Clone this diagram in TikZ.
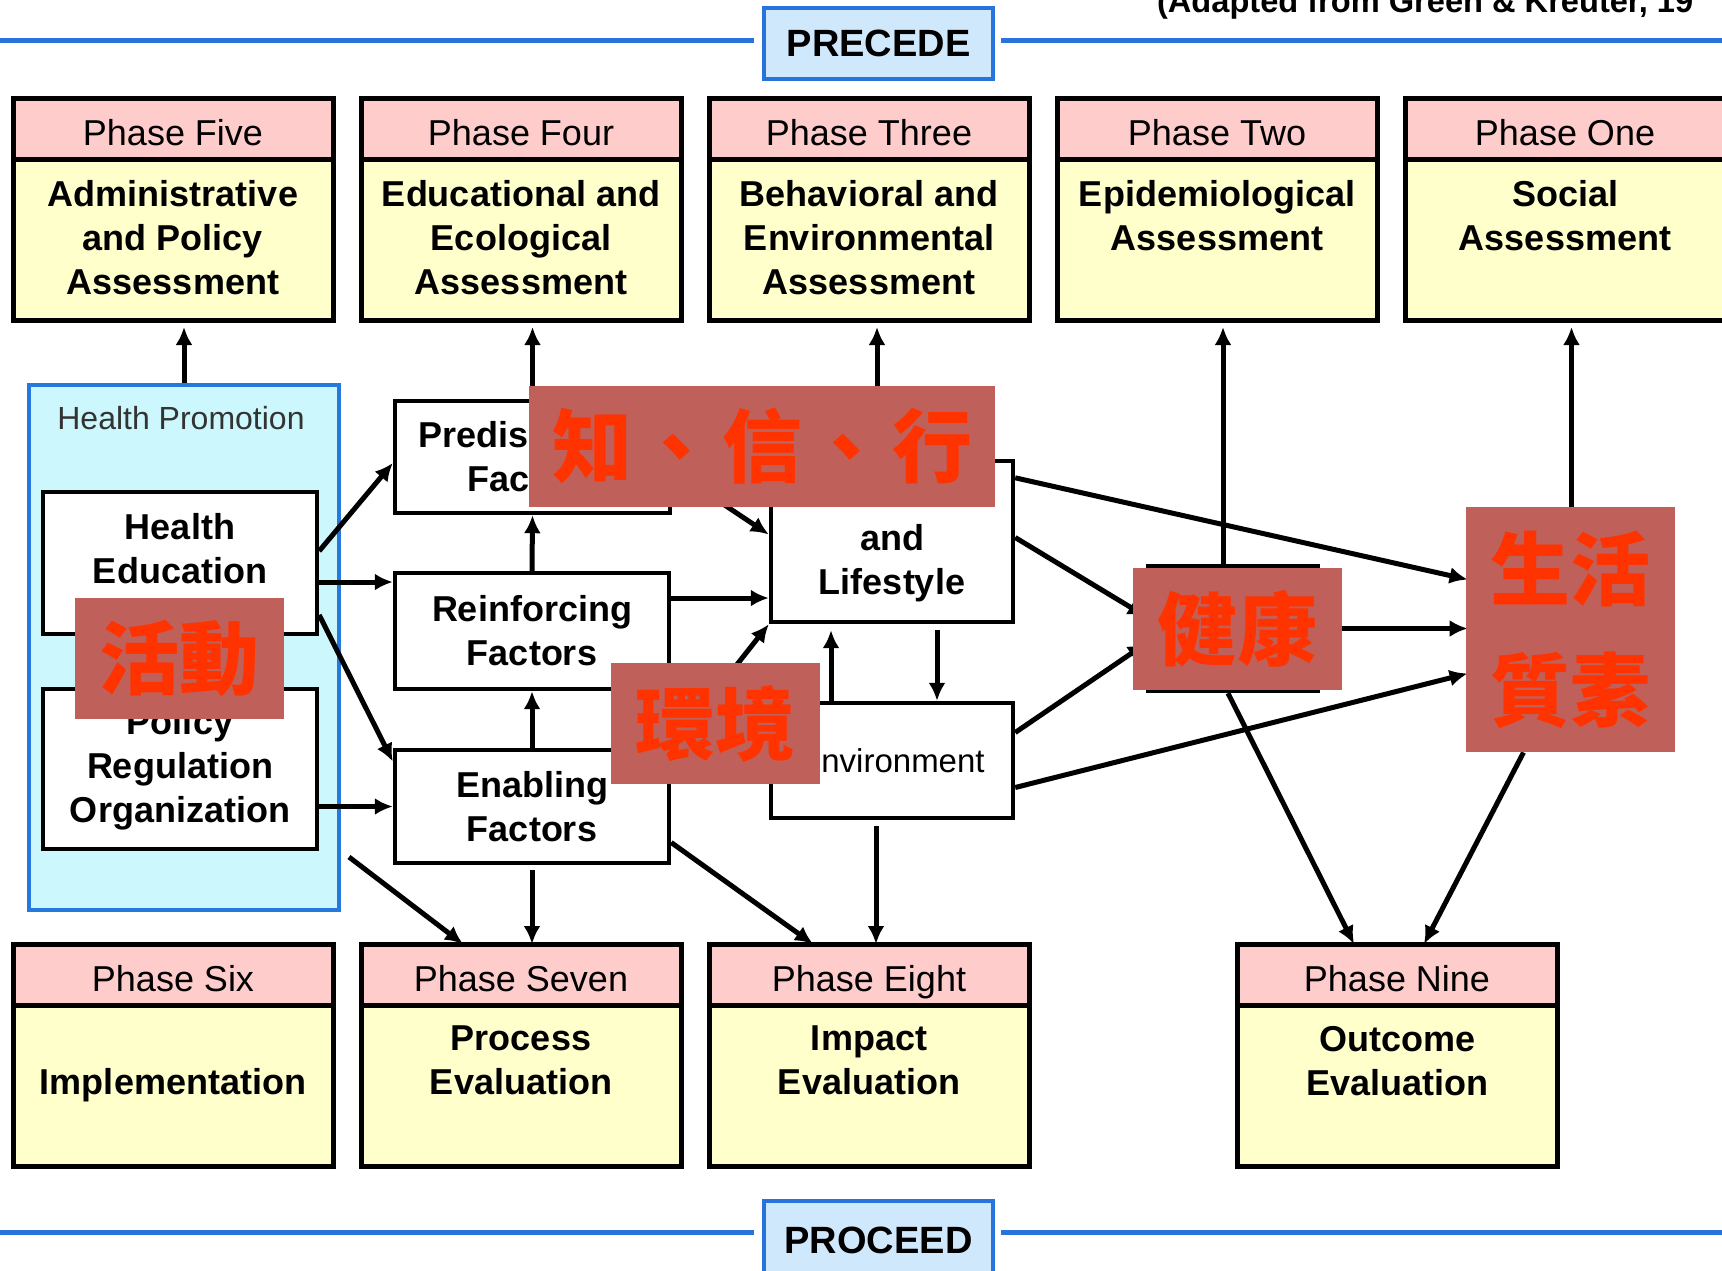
\documentclass[tikz,border=0pt]{standalone}
\usepackage{fontspec}
\setmainfont{Liberation Sans}
\newfontfamily\cjk{Noto Sans CJK TC}
\usepackage{tikz}
\usetikzlibrary{arrows.meta,positioning,calc}

\definecolor{headpink}{RGB}{255,204,204}
\definecolor{bodyyellow}{RGB}{255,255,204}
\definecolor{hpcyan}{RGB}{204,247,252}
\definecolor{hpblue}{RGB}{38,120,220}
\definecolor{lineblue}{RGB}{40,115,220}
\definecolor{boxblue}{RGB}{208,232,252}
\definecolor{tagfill}{RGB}{192,96,90}
\definecolor{tagred}{RGB}{255,51,0}

\newcommand\phhead{\fontsize{18}{22}\selectfont}
\newcommand\phbody{\fontsize{18}{22}\selectfont\bfseries}
\newcommand\zhtag{\cjk\bfseries\fontsize{40}{60.5}\selectfont}

\begin{document}
\begin{tikzpicture}[x=0.5pt,y=-0.5pt]
\tikzstyle{head} = [draw, line width=2.5pt, outer sep=0pt, fill=headpink, minimum width=160pt, minimum height=30.5pt, text height=17pt, text depth=0pt, anchor=north west, font=\phhead]
\tikzstyle{body} = [draw, line width=2.5pt, outer sep=0pt, fill=bodyyellow, minimum width=160pt, minimum height=80.5pt, font=\phbody]
\tikzstyle{btext} = [anchor=north, yshift=-7pt, align=center, font=\phbody]
\tikzstyle{factor} = [draw, line width=2.2pt, fill=white, align=center, font=\phbody]
\tikzstyle{tag} = [fill=tagfill, text=tagred, inner sep=0pt, align=center, font=\zhtag]
\tikzstyle{arr} = [line width=2.5pt, -{Latex[length=9pt,width=8.5pt]}]
\tikzstyle{blueline} = [line width=2.5pt, draw=lineblue]
\tikzstyle{banner} = [draw=lineblue, line width=2pt, fill=boxblue, minimum width=114.5pt, font=\fontsize{19}{22}\selectfont\bfseries]

\useasboundingbox (0,0) rectangle (1722,1270);
\clip (0,0) rectangle (1722,1270);

% PRECEDE / PROCEED
\node[banner, minimum height=35.5pt] (precede) at (878.5,43.5) {PRECEDE};
\node[banner, minimum height=39.5pt] (proceed) at (878.5,1240) {PROCEED};
\coordinate (ltop) at (0,40);
\coordinate (rtop) at (1722,40);
\coordinate (lbot) at (0,1232);
\coordinate (rbot) at (1722,1232);
\draw[blueline, shorten >=4pt] (ltop) -- (ltop -| precede.west);
\draw[blueline, shorten >=3pt] (rtop) -- (rtop -| precede.east);
\draw[blueline, shorten >=4pt] (lbot) -- (lbot -| proceed.west);
\draw[blueline, shorten >=3pt] (rbot) -- (rbot -| proceed.east);
\node[anchor=base west, font=\fontsize{16.3}{18}\selectfont\bfseries] (credit) at (1150,12) {(Adapted from Green \& Kreuter, 19};

% top row
\node[head] (h5) at (13,98) {Phase Five};
\node[body, below=0pt of h5, label={[btext]north:{Administrative\\and Policy\\Assessment}}] (b5) {};
\node[head] (h4) at (361,98) {Phase Four};
\node[body, below=0pt of h4, label={[btext]north:{Educational and\\Ecological\\Assessment}}] (b4) {};
\node[head] (h3) at (709,98) {Phase Three};
\node[body, below=0pt of h3, label={[btext]north:{Behavioral and\\Environmental\\Assessment}}] (b3) {};
\node[head] (h2) at (1057,98) {Phase Two};
\node[body, below=0pt of h2, label={[btext]north:{Epidemiological\\Assessment}}] (b2) {};
\node[head] (h1) at (1405,98) {Phase One};
\node[body, below=0pt of h1, label={[btext]north:{Social\\Assessment}}] (b1) {};

% bottom row
\node[head] (h6) at (13,944) {Phase Six};
\node[body, below=0pt of h6] (b6) {Implementation};
\node[head] (h7) at (361,944) {Phase Seven};
\node[body, below=0pt of h7, label={[btext]north:{Process\\Evaluation}}] (b7) {};
\node[head] (h8) at (709,944) {Phase Eight};
\node[body, below=0pt of h8, label={[btext]north:{Impact\\Evaluation}}] (b8) {};
\node[head] (h9) at (1237,944) {Phase Nine};
\node[body, below=0pt of h9, label={[btext]north:{Outcome\\Evaluation}}] (b9) {};

% health promotion
\node[draw=hpblue, line width=2pt, fill=hpcyan, minimum width=155pt, minimum height=262.5pt] (hp) at (184,647.5) {};
\node[font=\fontsize{16}{18}\selectfont, text=black!80] (hptitle) at (181,418) {Health Promotion};
\node[factor, minimum width=137pt, minimum height=71pt, label={[font=\phbody, align=center, yshift=7pt]center:{Health\\Education}}] (he) at (180,563) {};
\node[factor, minimum width=137pt, minimum height=80pt] (pro) at (180,769) {Policy\\Regulation\\Organization};

% factors
\node[factor, minimum width=137.5pt, minimum height=56pt] (predis) at (532.5,457) {Predisposing\\Factors};
\node[factor, minimum width=137pt, minimum height=58pt] (reinf) at (532,631) {Reinforcing\\Factors};
\node[factor, minimum width=137pt, minimum height=56.5pt] (enab) at (532,806.5) {Enabling\\Factors};
\node[factor, minimum width=121pt, minimum height=80.5pt] (behav) at (892,541.5) {Behavior\\and\\Lifestyle};
\node[factor, minimum width=121pt, minimum height=57.5pt, font=\fontsize{16.5}{20}\selectfont] (env) at (892,760.5) {Environment};
\node[factor, minimum width=85pt, minimum height=62.5pt] (health) at (1233,628.5) {};
\node[minimum width=103.5pt, minimum height=122.5pt] (qol) at (1571.5,629.5) {};

% up to the phases
\coordinate (c3) at ($(behav.north)+(-15,0)$);
\coordinate (c2) at ($(health.north)+(-10,0)$);
\draw[arr, shorten >=3.5pt] (hp.north) -- (hp.north |- b5.south);
\draw[arr, shorten >=3.5pt] (predis.north) -- (predis.north |- b4.south);
\draw[arr, shorten >=3.5pt] (c3) -- (c3 |- b3.south);
\draw[arr, shorten >=3.5pt] (c2) -- (c2 |- b2.south);
\draw[arr, shorten >=3.5pt] (qol.north) -- (qol.north |- b1.south);

% down to the phases
\coordinate (s7) at ($(hp.south east)+(8,-55)$);
\coordinate (c8) at ($(env.south)+(-16,0)$);
\draw[arr] (s7) -- ($(h7.north)+(-58,0)$);
\draw[arr, shorten <=2.5pt] (enab.south) -- (enab.south |- h7.north);
\draw[arr] ($(enab.east)+(0,36)$) -- ($(h8.north)+(-56,0)$);
\draw[arr, shorten <=3pt] (c8) -- (c8 |- h8.north);
\draw[arr] ($(health.south)+(-5,0)$) -- ($(h9.north)+(-43,0)$);
\draw[arr] ($(qol.south)+(-48,0)$) -- ($(h9.north)+(27,0)$);

% middle
\coordinate (c1) at ($(he.east)+(0,19)$);
\coordinate (c4) at ($(reinf.east)+(0,-33)$);
\coordinate (c5) at ($(behav.south)+(45,0)$);
\coordinate (c6) at ($(behav.south)+(-61,0)$);
\draw[arr] ($(he.east)+(0,-12)$) -- ($(predis.west)+(0,6)$);
\draw[arr] (c1) -- (c1 -| reinf.west);
\draw[arr] ($(he.east)+(0,52)$) -- ($(enab.west)+(0,-45)$);
\draw[arr] (enab.west -| pro.east) -- (enab.west);
\draw[arr] (reinf.north) -- (predis.south);
\draw[arr] (enab.north) -- (reinf.south);
\draw[arr] ($(predis.east)+(0,13)$) -- ($(behav.west)+(0,-7)$);
\draw[arr] (c4) -- (c4 -| behav.west);
\draw[arr] (enab.north east) -- (behav.south west);
\draw[arr, shorten <=3pt] (c5) -- (c5 |- env.north);
\draw[arr, shorten >=3pt] (c6 |- env.north) -- (c6);
\draw[arr] ($(behav.east)+(0,-4)$) -- ($(health.west)+(0,-12)$);
\draw[arr] ($(behav.north east)+(0,19)$) -- ($(qol.west)+(0,-50)$);
\draw[arr] (health.east) -- (health.east -| qol.west);
\draw[arr] ($(env.east)+(0,-28)$) -- ($(health.west)+(0,15)$);
\draw[arr] ($(env.east)+(0,27)$) -- ($(qol.west)+(0,44)$);

% chinese tags
\node[tag, minimum width=104.5pt, minimum height=60.5pt] (acttag) at (179.5,658.5) {活動};
\node[tag, minimum width=233pt, minimum height=60.5pt] (kaptag) at (762,446.5) {知\kern2.5pt 、\kern2.5pt 信\kern2.5pt 、\kern2.5pt 行};
\node[tag, minimum width=104.5pt, minimum height=60.5pt] (envtag) at (715.5,723.5) {環境};
\node[tag, minimum width=104.5pt, minimum height=61pt] (healthtag) at (1237.5,629) {健康};
\node[tag, minimum width=104.5pt, minimum height=122.5pt] (qoltag) at (1570.5,629.5) {生活\\質素};
\end{tikzpicture}
\end{document}
